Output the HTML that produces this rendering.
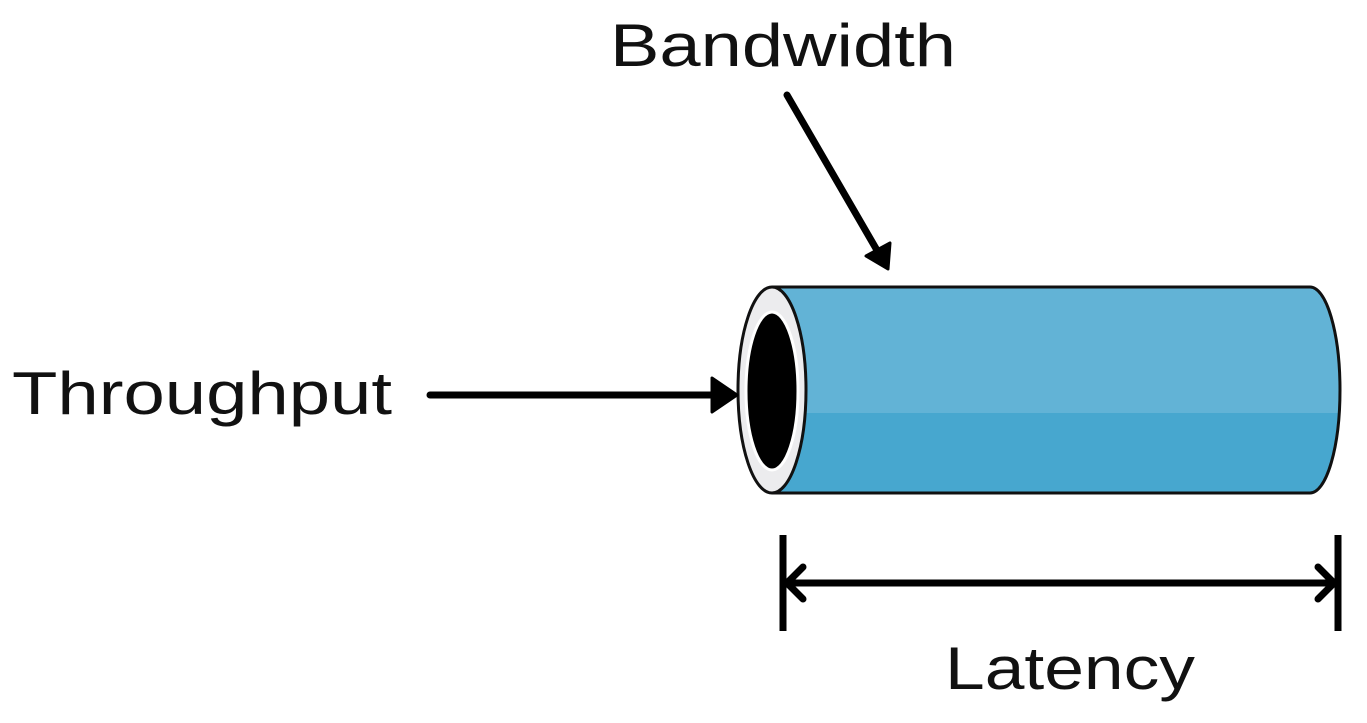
<!DOCTYPE html>
<html><head><meta charset="utf-8"><style>
html,body{margin:0;padding:0;background:#fff;width:1367px;height:723px;overflow:hidden}
svg{display:block}
text{font-family:"Liberation Sans",sans-serif;fill:#111}
</style></head><body>
<svg width="1367" height="723" viewBox="0 0 1367 723" xmlns="http://www.w3.org/2000/svg">
<defs>
<clipPath id="top"><rect x="0" y="0" width="1367" height="413"/></clipPath>
</defs>
<text x="610" y="66" font-size="60" textLength="346" lengthAdjust="spacingAndGlyphs">Bandwidth</text>
<text x="12" y="414" font-size="60" textLength="380" lengthAdjust="spacingAndGlyphs">Throughput</text>
<text x="945" y="689" font-size="60" textLength="250" lengthAdjust="spacingAndGlyphs">Latency</text>

<!-- cylinder body -->
<path d="M772,287 L1310,287 A30,103 0 0 1 1310,493 L772,493 Z" fill="#47a7cf"/>
<path d="M772,287 L1310,287 A30,103 0 0 1 1310,493 L772,493 Z" fill="#62b3d6" clip-path="url(#top)"/>
<path d="M772,287 L1310,287 A30,103 0 0 1 1310,493 L772,493" fill="none" stroke="#111" stroke-width="3"/>
<ellipse cx="772" cy="390" rx="34" ry="103" fill="#ececee" stroke="#111" stroke-width="3"/>
<ellipse cx="772" cy="391" rx="26" ry="79" fill="#000" stroke="#fff" stroke-width="3"/>

<!-- throughput arrow -->
<line x1="430" y1="395" x2="720" y2="395" stroke="#000" stroke-width="7" stroke-linecap="round"/>
<path d="M712,378 L737,395 L712,412 Z" fill="#000" stroke="#000" stroke-width="3" stroke-linejoin="round"/>

<!-- bandwidth arrow -->
<line x1="787" y1="95" x2="878" y2="252" stroke="#000" stroke-width="7" stroke-linecap="round"/>
<path d="M866,256 L890,243 L888,269 Z" fill="#000" stroke="#000" stroke-width="3" stroke-linejoin="round"/>

<!-- latency -->
<line x1="783" y1="535" x2="783" y2="631" stroke="#000" stroke-width="7"/>
<line x1="1338" y1="535" x2="1338" y2="631" stroke="#000" stroke-width="7"/>
<line x1="787" y1="583" x2="1334" y2="583" stroke="#000" stroke-width="7"/>
<polyline points="803,567 787,583 803,599" fill="none" stroke="#000" stroke-width="7" stroke-linecap="round" stroke-linejoin="round"/>
<polyline points="1318,567 1334,583 1318,599" fill="none" stroke="#000" stroke-width="7" stroke-linecap="round" stroke-linejoin="round"/>
</svg>
</body></html>
